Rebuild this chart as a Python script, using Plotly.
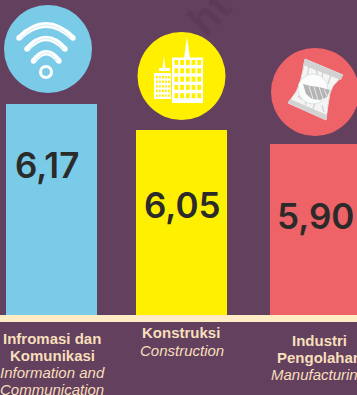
import plotly.graph_objects as go

label_lines_bold = ["Infromasi dan", "Komunikasi", "Konstruksi", "Industri", "Pengolahan"]
label_lines_italic = ["Information and", "Communication", "Construction", "Manufacturing"]
values = ["6,17", "6,05", "5,90"]
bar_heights = [211, 185, 171]   # as drawn in the infographic (not proportional to the values)
colors = ["#7ACBE8", "#FFF000", "#EE6368"]
x_pos = [51.5, 181.5, 315.5]

BG = "#64405F"; CREAM = "#F6DFBA"; WHITE = "#FFFFFF"
fig = go.Figure()
fig.add_trace(go.Bar(x=x_pos, y=bar_heights, width=91, marker=dict(color=colors, line_width=0),
                     hoverinfo="skip", showlegend=False))

shapes = []
def Y(p): return 315 - p   # page px to data units

def rect(x0, y0, x1, y1, c):
    shapes.append(dict(type="rect", x0=x0, x1=x1, y0=Y(y0), y1=Y(y1), fillcolor=c, line_width=0))
def circ(cx, cy, r, fill, line=None, w=0):
    shapes.append(dict(type="circle", x0=cx-r, x1=cx+r, y0=Y(cy-r), y1=Y(cy+r), fillcolor=fill,
                       line=dict(color=line or fill, width=w)))
def path(pts, fill, line=None, w=0):
    d = "M " + " L ".join(f"{x},{Y(y)}" for x, y in pts) + " Z"
    shapes.append(dict(type="path", path=d, fillcolor=fill, line=dict(color=line or fill, width=w)))
def seg(x0, y0, x1, y1, c, w):
    shapes.append(dict(type="line", x0=x0, x1=x1, y0=Y(y0), y1=Y(y1), line=dict(color=c, width=w)))
def arc(x0, x1, yend, ctrl, c, w):
    d = f"M {x0},{Y(yend)} Q {(x0+x1)/2},{Y(ctrl)} {x1},{Y(yend)}"
    shapes.append(dict(type="path", path=d, line=dict(color=c, width=w)))

# baseline band
rect(0, 315, 357, 322, "#FFEBC4")
# icon discs
circ(48, 49, 44, colors[0]); circ(181.5, 76, 44, colors[1]); circ(315, 92, 44, colors[2])

# wifi
for x0, x1, ye, c in [(19, 73, 38, 12), (27, 65, 49, 28), (33.5, 59, 61, 44.5)]:
    arc(x0, x1, ye, c, WHITE, 5.5)
    circ(x0, ye, 2.7, WHITE); circ(x1, ye, 2.7, WHITE)
    arc(x0+2, x1-2, ye, c, "#BFE6F4", 0.8)
circ(46, 72, 5.5, "rgba(0,0,0,0)", WHITE, 3)

# buildings
rect(154, 73, 171, 99, WHITE)
path([(164, 56), (165.5, 68), (170, 68), (170, 71), (159, 71), (159, 68), (162.5, 68)], WHITE)
for r in range(5):
    for c in range(5):
        rect(156 + c*3, 76 + r*4.6, 157.8 + c*3, 78.4 + r*4.6, colors[1])
rect(172, 57.5, 203, 103, WHITE)
path([(187, 37), (190, 58), (184, 58)], WHITE)
for r in range(5):
    for c in range(5):
        rect(174.5 + c*5.7, 60 + r*8.3, 178.3 + c*5.7, 65 + r*8.3, colors[1])

# snack pack
path([(305, 59), (343, 75), (333, 86), (330, 93), (328, 105), (326, 120), (288, 103), (296, 92), (300, 83), (303, 70)],
     "#F4F4F4", "#E0E0E0", 1)
path([(305, 59), (343, 75), (341, 80), (303, 65)], "#D2D2D2")
path([(288, 103), (326, 120), (327, 115), (290, 99)], "#D2D2D2")
for a, b, d, e in [(309, 66, 307, 76), (316, 69, 318, 76), (323, 72, 322, 79), (331, 75, 328, 84),
                   (298, 96, 303, 100), (305, 99, 306, 105), (315, 103, 313, 109), (322, 105, 324, 112)]:
    seg(a, b, d, e, "#CFCFCF", 1.2)
circ(313, 89, 15, "#FCFCFC", "#D5E6DC", 1)
path([(303, 84), (311, 86), (319, 87), (330, 90), (327, 97), (320, 100), (312, 99), (306, 94)], "#B4B4B4")
for a, b, d, e in [(309, 86, 313, 99), (314, 87, 318, 100), (319, 87, 323, 99), (324, 89, 327, 96)]:
    seg(a, b, d, e, "#E8E8E8", 1)

ann = []
label_y = [165, 205, 216]
label_x = [47, 182, 315.5]
for x, y, v in zip(label_x, label_y, values):
    ann.append(dict(x=x, y=Y(y), text=v, showarrow=False, xanchor="center", yanchor="middle",
                    font=dict(family="Inter", size=35, color="#2B2B2B", weight=600)))

bold_pos = [(51.5, 338), (52, 355), (181, 332), (319, 340), (319, 357)]
ital_pos = [(52, 372), (52, 389), (181.5, 350), (319, 374)]
for (x, y), t in zip(bold_pos, label_lines_bold):
    ann.append(dict(x=x, y=Y(y), text=f"<b>{t}</b>", showarrow=False, xanchor="center", yanchor="middle",
                    font=dict(family="Liberation Sans", size=15, color=CREAM)))
for (x, y), t in zip(ital_pos, label_lines_italic):
    ann.append(dict(x=x, y=Y(y), text=f"<i>{t}</i>", showarrow=False, xanchor="center", yanchor="middle",
                    font=dict(family="Liberation Sans", size=15, color=CREAM)))
ann.append(dict(x=209, y=Y(13), text="ht", textangle=-45, showarrow=False,
                font=dict(family="Liberation Sans", size=42, color="#5C3A58", weight=700)))

fig.update_layout(width=357, height=395, margin=dict(l=0, r=0, t=0, b=0),
                  paper_bgcolor=BG, plot_bgcolor=BG, shapes=shapes, annotations=ann,
                  xaxis=dict(range=[0, 357], visible=False, fixedrange=True),
                  yaxis=dict(range=[-80, 315], visible=False, fixedrange=True),
                  showlegend=False)
fig.write_html("out.html", config=dict(displayModeBar=False),
               post_script="document.body.style.margin='0';document.body.style.overflow='hidden';")
